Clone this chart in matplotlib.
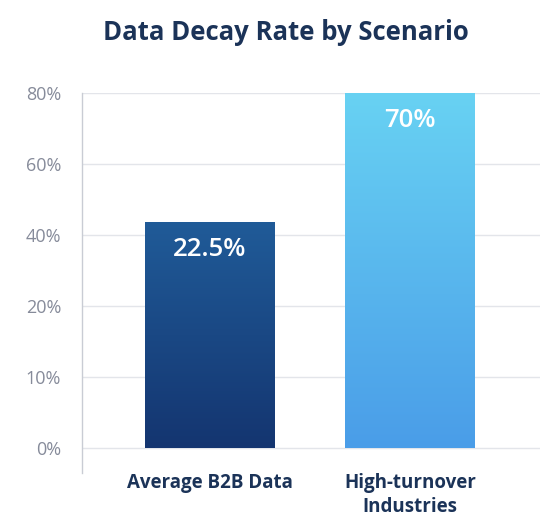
import numpy as np
import matplotlib
matplotlib.use("Agg")
import matplotlib.pyplot as plt
from matplotlib.colors import LinearSegmentedColormap

plt.rcParams["font.family"] = ["Open Sans", "DejaVu Sans"]

categories = ["Average B2B Data", "High-turnover\nIndustries"]
values = [22.5, 70]
value_labels = ["22.5%", "70%"]
# bar heights as drawn on the (unevenly labelled) axis, in tick steps
bar_heights = [3.18, 5.0]
tick_labels = ["0%", "10%", "20%", "40%", "60%", "80%"]

top_colors = ["#205b98", "#68d2f3"]
bottom_colors = ["#143570", "#4a9de8"]

fig = plt.figure(figsize=(5.42, 5.30), dpi=100)
ax = fig.add_axes([0.151, 0.1075, 0.845, 0.717])

x = np.arange(len(categories))
bars = ax.bar(x, bar_heights, width=0.65, color="none", edgecolor="none", zorder=3)

grad = np.linspace(0, 1, 256).reshape(-1, 1)
for bar, c_top, c_bot in zip(bars, top_colors, bottom_colors):
    cmap = LinearSegmentedColormap.from_list("g", [c_bot, c_top])
    x0, y0 = bar.get_x(), bar.get_y()
    w, h = bar.get_width(), bar.get_height()
    im = ax.imshow(grad, cmap=cmap, aspect="auto", origin="lower",
                   extent=[x0, x0 + w, y0, y0 + h], zorder=3)
    im.set_clip_path(bar)

for xi, h, lab in zip(x, bar_heights, value_labels):
    ax.text(xi, h - 0.38, lab, ha="center", va="center", color="white",
            fontsize=18.5, fontweight="semibold", zorder=4)

ax.set_xlim(-0.64, 1.65)
ax.set_ylim(-0.35, 5.0)
ax.set_yticks(range(len(tick_labels)))
ax.set_yticklabels(tick_labels, color="#868b9a", fontsize=13)
ax.set_xticks(x)
ax.set_xticklabels(categories, color="#1b3358", fontsize=13.5, fontweight="bold",
                   linespacing=1.25)
ax.tick_params(axis="both", length=0)
ax.tick_params(axis="y", pad=15)
ax.tick_params(axis="x", pad=0)

ax.grid(axis="y", color="#e3e5ea", linewidth=1, zorder=0)
ax.set_axisbelow(True)
for s in ["top", "right", "bottom"]:
    ax.spines[s].set_visible(False)
ax.spines["left"].set_color("#c9ccd4")
ax.spines["left"].set_linewidth(1)
ax.spines["left"].set_bounds(-0.35, 5.0)

fig.text(0.528, 0.938, "Data Decay Rate by Scenario", ha="center", va="center",
         fontsize=18.5, fontweight="bold", color="#1b3358")

fig.savefig("out.png", dpi=100)
